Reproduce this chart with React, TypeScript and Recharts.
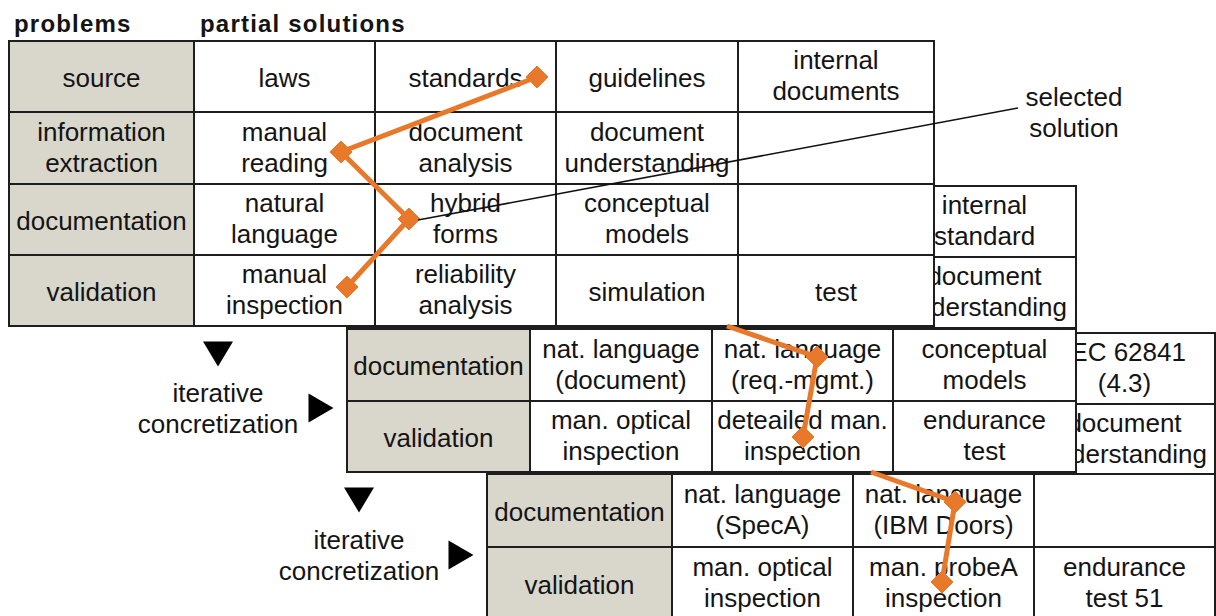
import React from "react";
import { ScatterChart, Scatter, XAxis, YAxis } from "recharts";

// ---------------- data ----------------
const headings = ["problems", "partial solutions"];

const problemsTop = ["source", "information\nextraction", "documentation", "validation"];
const solutionsSource = ["laws", "standards", "guidelines", "internal\ndocuments"];
const solutionsExtraction = ["manual\nreading", "document\nanalysis", "document\nunderstanding", ""];
const solutionsDocumentation = ["natural\nlanguage", "hybrid\nforms", "conceptual\nmodels", ""];
const solutionsValidation = ["manual\ninspection", "reliability\nanalysis", "simulation", "test"];

const problemsIter = ["documentation", "validation"];
const iter1Documentation = ["nat. language\n(document)", "nat. language\n(req.-mgmt.)", "conceptual\nmodels"];
const iter1Validation = ["man. optical\ninspection", "deteailed man.\ninspection", "endurance\ntest"];
const iter1BackDocumentation = ["", "", "internal\nstandard"];
const iter1BackValidation = ["", "", "document\nunderstanding"];

const iter2Documentation = ["nat. language\n(SpecA)", "nat. language\n(IBM Doors)", ""];
const iter2Validation = ["man. optical\ninspection", "man. probeA\ninspection", "endurance\ntest 51"];
const iter2BackDocumentation = ["", "", "IEC 62841\n(4.3)"];
const iter2BackValidation = ["", "", "document\nunderstanding"];

const stepLabel = "iterative\nconcretization";
const calloutLabel = "selected\nsolution";

// selected-solution paths (in chart units)
const selTopX = [537, 341, 409, 347];
const selTopY = [77, 152, 219, 287];
const selIter1X = [727, 817, 803];
const selIter1Y = [326, 357, 437];
const selIter2X = [871, 955, 942];
const selIter2Y = [472, 502, 582];
const calloutX = [418, 1018];
const calloutY = [220, 108];

// annotation anchors (chart units)
const titleX = [14, 200];
const titleY = [32, 32];
const stepLabelX = [218, 359];
const stepLabelY = [402, 549];
const arrowDownX = [218, 359];
const arrowDownY = [354, 500];
const arrowRightX = [321, 461];
const arrowRightY = [408, 555];
const calloutLabelX = [1074];
const calloutLabelY = [106];

// ---------------- layout ----------------
const W = 1216;
const H = 616;
const XMIN = 0;
const XMAX = 1216;
const YMIN = 0;
const YMAX = 616;
const KX = W / (XMAX - XMIN);
const KY = H / (YMAX - YMIN);
const LINE_GAP = 31;

const LAYOUT = {
  top: { xs: [9, 194, 375, 556, 738, 934], ys: [41, 112, 184, 255, 326] },
  iter1Back: { xs: [347, 530, 712, 893, 1076], ys: [186, 257, 328] },
  iter1: { xs: [347, 530, 712, 893, 1076], ys: [329, 401, 472] },
  iter2Back: { xs: [487, 672, 853, 1034, 1215], ys: [333, 404, 475] },
  iter2: { xs: [487, 672, 853, 1034, 1215], ys: [474, 547, 620] },
};

const FONT = "'Liberation Sans', Arial, Helvetica, sans-serif";
const ORANGE = "#e8792b";
const GRAY = "#d9d7cb";
const INK = "#141414";

type Cell = { x: number; y: number; w: number; h: number; text: string; header: boolean };

function buildTable(layout: { xs: number[]; ys: number[] }, problems: string[], rows: string[][]): Cell[] {
  const cells: Cell[] = [];
  for (let r = 0; r < problems.length; r++) {
    const y0 = layout.ys[r];
    const y1 = layout.ys[r + 1];
    const texts = [problems[r], ...rows[r]];
    for (let c = 0; c < texts.length; c++) {
      const x0 = layout.xs[c];
      const x1 = layout.xs[c + 1];
      cells.push({ x: (x0 + x1) / 2, y: (y0 + y1) / 2, w: x1 - x0, h: y1 - y0, text: texts[c], header: c === 0 });
    }
  }
  return cells;
}

const tableTop = buildTable(LAYOUT.top, problemsTop, [
  solutionsSource,
  solutionsExtraction,
  solutionsDocumentation,
  solutionsValidation,
]);
const tableIter1Back = buildTable(LAYOUT.iter1Back, problemsIter, [iter1BackDocumentation, iter1BackValidation]);
const tableIter1 = buildTable(LAYOUT.iter1, problemsIter, [iter1Documentation, iter1Validation]);
const tableIter2Back = buildTable(LAYOUT.iter2Back, problemsIter, [iter2BackDocumentation, iter2BackValidation]);
const tableIter2 = buildTable(LAYOUT.iter2, problemsIter, [iter2Documentation, iter2Validation]);

// a path whose first point only starts the line (it comes from under the table above)
const toPath = (xs: number[], ys: number[], firstIsStart: boolean) =>
  xs.map((x, i) => ({ x, y: ys[i], start: firstIsStart && i === 0 }));
const pathTop = toPath(selTopX, selTopY, false);
const pathIter1 = toPath(selIter1X, selIter1Y, true);
const pathIter2 = toPath(selIter2X, selIter2Y, true);
const calloutLine = calloutX.map((x, i) => ({ x, y: calloutY[i] }));

type Ann = { x: number; y: number; kind: string; text?: string };
const annotations: Ann[] = [
  ...titleX.map((x, i) => ({ x, y: titleY[i], kind: "title", text: headings[i] })),
  ...stepLabelX.map((x, i) => ({ x, y: stepLabelY[i], kind: "label", text: stepLabel })),
  ...calloutLabelX.map((x, i) => ({ x, y: calloutLabelY[i], kind: "label", text: calloutLabel })),
  ...arrowDownX.map((x, i) => ({ x, y: arrowDownY[i], kind: "down" })),
  ...arrowRightX.map((x, i) => ({ x, y: arrowRightY[i], kind: "right" })),
];

// ---------------- shapes ----------------
function CellShape(props: any) {
  const { cx, cy, payload } = props;
  const w = payload.w * KX;
  const h = payload.h * KY;
  const lines: string[] = payload.text ? payload.text.split("\n") : [];
  const baselines = lines.length === 1 ? [cy + 10] : [cy - 7.5, cy - 7.5 + LINE_GAP];
  return (
    <g>
      <rect
        x={cx - w / 2}
        y={cy - h / 2}
        width={w}
        height={h}
        fill={payload.header ? GRAY : "#ffffff"}
        stroke="#1e1e1e"
        strokeWidth={2}
      />
      {lines.map((ln, i) => (
        <text
          key={i}
          x={cx}
          y={baselines[i]}
          textAnchor="middle"
          fontFamily={FONT}
          fontSize={26}
          fill={INK}
        >
          {ln}
        </text>
      ))}
    </g>
  );
}

function DiamondShape(props: any) {
  const { cx, cy, payload } = props;
  if (payload.start) return <g />;
  const r = 11;
  return (
    <polygon
      points={`${cx},${cy - r} ${cx + r},${cy} ${cx},${cy + r} ${cx - r},${cy}`}
      fill={ORANGE}
      stroke={ORANGE}
      strokeWidth={1}
    />
  );
}

function NoShape() {
  return <g />;
}

function AnnotationShape(props: any) {
  const { cx, cy, payload } = props;
  if (payload.kind === "title") {
    return (
      <text x={cx} y={cy} fontFamily={FONT} fontSize={24} fontWeight="bold" letterSpacing={1.2} fill={INK}>
        {payload.text}
      </text>
    );
  }
  if (payload.kind === "label") {
    const lines: string[] = payload.text.split("\n");
    return (
      <g>
        {lines.map((ln, i) => (
          <text key={i} x={cx} y={cy + i * LINE_GAP} textAnchor="middle" fontFamily={FONT} fontSize={26} fill={INK}>
            {ln}
          </text>
        ))}
      </g>
    );
  }
  if (payload.kind === "down") {
    const hw = 15;
    const hh = 12.5;
    return <polygon points={`${cx - hw},${cy - hh} ${cx + hw},${cy - hh} ${cx},${cy + hh}`} fill="#000" />;
  }
  if (payload.kind === "right") {
    const hw = 12.5;
    const hh = 14.5;
    return <polygon points={`${cx - hw},${cy - hh} ${cx + hw},${cy} ${cx - hw},${cy + hh}`} fill="#000" />;
  }
  return <g />;
}

// ---------------- chart ----------------
export default function App() {
  return (
    <div style={{ position: "absolute", left: 0, top: 0, width: W, height: H, background: "#fff" }}>
      <style>{"body{margin:0;background:#fff;}"}</style>
      <ScatterChart width={W} height={H} margin={{ top: 0, right: 0, bottom: 0, left: 0 }}>
        <XAxis type="number" dataKey="x" domain={[XMIN, XMAX]} hide />
        <YAxis type="number" dataKey="y" domain={[YMIN, YMAX]} reversed hide />
        <Scatter data={tableIter1Back} shape={CellShape} isAnimationActive={false} />
        <Scatter data={tableIter2Back} shape={CellShape} isAnimationActive={false} />
        <Scatter data={tableTop} shape={CellShape} isAnimationActive={false} />
        <Scatter data={tableIter1} shape={CellShape} isAnimationActive={false} />
        <Scatter data={tableIter2} shape={CellShape} isAnimationActive={false} />
        <Scatter
          data={pathTop}
          shape={DiamondShape}
          line={{ stroke: ORANGE, strokeWidth: 5 }}
          isAnimationActive={false}
        />
        <Scatter
          data={pathIter1}
          shape={DiamondShape}
          line={{ stroke: ORANGE, strokeWidth: 5 }}
          isAnimationActive={false}
        />
        <Scatter
          data={pathIter2}
          shape={DiamondShape}
          line={{ stroke: ORANGE, strokeWidth: 5 }}
          isAnimationActive={false}
        />
        <Scatter
          data={calloutLine}
          shape={NoShape}
          line={{ stroke: "#111", strokeWidth: 1.6 }}
          isAnimationActive={false}
        />
        <Scatter data={annotations} shape={AnnotationShape} isAnimationActive={false} />
      </ScatterChart>
    </div>
  );
}
